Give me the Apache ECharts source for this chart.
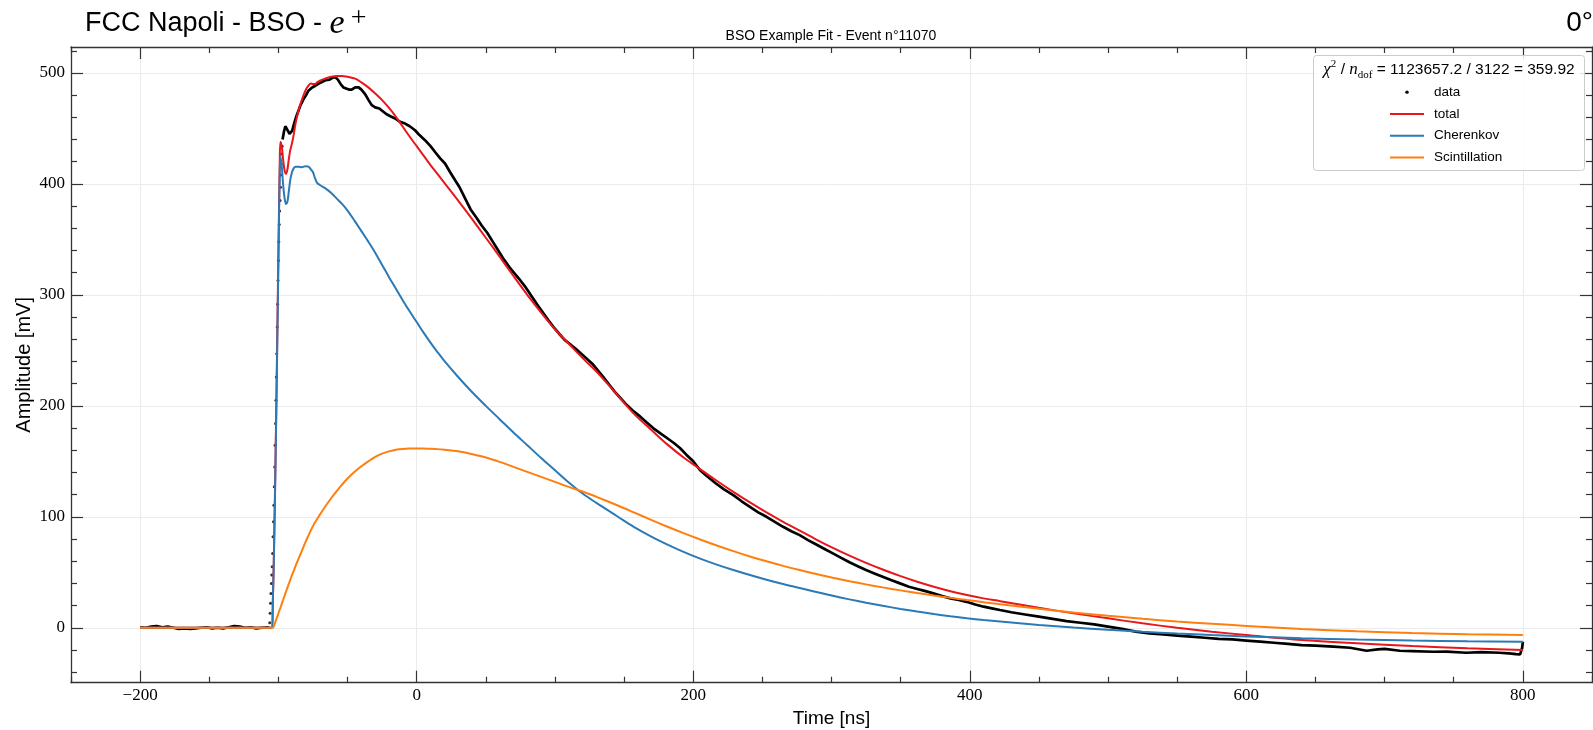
<!DOCTYPE html>
<html>
<head>
<meta charset="utf-8">
<title>BSO Example Fit</title>
<script src="https://cdn.jsdelivr.net/npm/echarts@6/dist/echarts.min.js"></script>
<style>
  html, body { margin: 0; padding: 0; background: #fff; }
  #chart { width: 1593px; height: 730px; }
</style>
</head>
<body>
<div id="chart"></div>
<script>
// measured samples before the pulse (flat baseline)
const baseT = [-200, -196, -192, -188, -184, -180, -176, -172, -168, -164, -160, -156, -152, -148, -144, -140, -136, -132, -128, -124, -120, -116, -112, -108, -106.6];
const baseV = [0.5, 0, 1, 1.5, 0.5, 1, 0, -1, -0.5, -1, -0.5, 0, 0.5, -0.5, 0, -0.5, 0.5, 1.5, 1, 0, 0.5, -0.5, 0, 0.5, 0];

// steep rising edge, samples visible as separate dots
const riseT = [-106.3, -106.0, -105.7, -105.4, -105.1, -104.8, -104.5, -104.2, -103.9, -103.6, -103.3, -103.0, -102.7, -102.4, -102.1, -101.8, -101.5, -101.2, -100.9, -100.6, -100.3, -100.0, -99.7, -99.4, -99.1, -98.8, -98.5, -98.2, -97.9, -97.6, -97.3];
const riseV = [4.5, 13, 22, 31, 40, 47.5, 55, 67, 82, 95.5, 110.5, 127, 145, 164.5, 184, 205, 226, 247, 271, 291.5, 313, 331, 348, 363.5, 375.5, 385, 397, 408, 418, 427, 434];

// rest of the waveform
const dataT = [-97, -96, -95, -94.7, -94, -93, -92, -91, -90, -88.5, -87, -85.5, -84, -82, -80, -78.3, -76, -74, -72, -70, -68.6, -66, -63, -61, -59, -57, -55, -53, -51.8, -49, -47, -44.5, -42, -40, -37.3, -35, -32.5, -30, -27, -25, -22, -19, -15.6, -12, -8.4, -5, -1.2, 2, 6, 10, 13.3, 17, 20.5, 24, 27.8, 31, 35, 39, 43, 47, 51, 55, 59, 63, 67, 71, 75, 79, 83, 87, 91, 95, 99, 103, 107, 111, 115, 119, 123, 127, 131, 135, 139, 143, 147, 151, 156, 161.5, 166, 171, 176, 181, 186, 190.4, 195, 200, 205, 210, 216, 222, 229, 235, 241, 247, 253, 259, 265, 271, 277, 283, 289, 295, 301, 307, 313, 319, 325, 331, 337, 343, 349.5, 356, 362, 368, 373.6, 380, 386, 392, 397.7, 404, 410, 416, 421.8, 430, 440, 450, 460, 470, 480, 490, 500, 510, 520, 530, 540, 550, 560, 570, 580, 590, 600, 610, 620, 630, 640, 650, 663, 675, 687, 695, 700, 711, 720, 735, 745, 759, 770, 783, 790, 795, 798, 799.5, 800];
const dataV = [440, 447, 452, 452.8, 451, 447.5, 445, 445, 448, 455, 461, 466, 471, 476, 480, 484, 486.5, 488, 489.5, 491, 492.8, 493.5, 494, 495.5, 496.4, 494, 490, 487, 486, 485, 485, 487, 487, 485, 481, 476, 471, 469, 468, 466, 463, 461, 459, 456, 454.4, 452, 448.4, 444, 439.4, 434, 428.8, 423, 418.4, 411, 403.3, 397, 387, 377, 370, 362.5, 356, 348, 340, 332, 325, 319, 313, 306.5, 299, 291.5, 284.5, 277.5, 271, 265, 259.5, 255.5, 251.5, 247, 242.5, 238, 232, 226, 219.5, 213, 207.5, 202, 196, 190.5, 185.5, 180, 175.5, 171, 166.5, 162, 156, 150, 142, 136.5, 130.5, 125, 119.5, 114, 109, 104, 100, 95.5, 91, 87, 83.5, 79, 75, 71, 67, 63, 59, 55.5, 52, 49, 46, 43, 40, 37, 35, 33, 31, 28.5, 26.5, 25, 23.4, 21, 19, 17.5, 16, 14, 12, 10, 8, 6, 4.5, 3, 1, -1, -3.5, -5, -6, -7, -8, -9, -10, -10.5, -11.5, -12.5, -13.5, -14.5, -15.6, -16, -17, -18, -20.7, -19.5, -19, -20.7, -21, -21.6, -21.5, -22.5, -22, -22.5, -23, -23.7, -24, -18, -12.6];

// fit curves, common time grid
const fitT = [-200, -105, -104, -103, -102, -101, -100, -99, -98.5, -97.5, -96.5, -95.5, -94.5, -93.5, -92.5, -91.5, -90.3, -89, -87.5, -85.5, -83, -80.5, -78.3, -76.5, -75, -73.5, -72, -70, -66, -62, -58, -54, -50, -44.5, -40, -35, -30, -25, -20, -15, -10, -5, 0, 5, 10, 15, 20, 30, 40, 50, 60, 70, 80, 90, 100, 110, 120, 130, 145, 157, 170, 181, 193, 205, 217, 229, 241, 253, 265, 277, 289, 301, 313, 325, 337, 350, 362, 374, 386, 398, 410, 422, 450, 475, 500, 525, 550, 575, 600, 640, 680, 720, 760, 800];
const totalV = [0, 0, 25, 85, 160, 247, 338, 423, 438, 433, 421, 412, 409, 413, 422, 430, 436, 444, 455, 466, 476, 484, 488.5, 490.5, 490, 490, 491.5, 493, 495, 496.5, 497.3, 497.3, 496.5, 494.9, 491.5, 487, 481.5, 475.5, 468.5, 460.5, 451.5, 442.5, 434, 425.5, 417, 409, 401, 385, 368.5, 351.5, 334.5, 317, 300, 284, 269, 256, 243, 231, 210, 193, 178, 165.5, 153.5, 143, 132.5, 122.5, 113, 104, 95.5, 87.5, 79.5, 72, 65, 58.5, 52.5, 46.5, 41.5, 37, 33, 29.5, 26.5, 24, 18, 13, 8.5, 4, 0, -3.5, -6.5, -11, -14, -16.5, -18.5, -20];
const cherV = [0, 0, 25, 80, 155, 240, 330, 412, 425, 415, 398, 387, 382, 384, 393, 403, 410, 414, 415.5, 415.5, 415, 416, 415.5, 413, 410.5, 405, 401, 399, 396, 392, 387, 382, 376, 366, 357.5, 348, 338, 327, 316, 305.5, 295, 285, 275.5, 266, 257, 248.5, 240.5, 226, 212.5, 200, 188, 176, 164.5, 153, 142, 131, 121, 112.5, 100.5, 91, 82, 75.2, 68.4, 62.3, 56.9, 52, 47.5, 43.3, 39.4, 35.8, 32.3, 28.8, 25.6, 22.6, 19.8, 17, 14.6, 12.4, 10.4, 8.6, 7, 5.6, 2.5, 0.2, -1.8, -3.6, -5.2, -6.6, -7.8, -9.4, -10.6, -11.5, -12.2, -12.6];
const scinV = [0, 0, 0, 2.5, 6, 9.5, 13, 16.5, 18, 22, 25.5, 29, 32.5, 36, 39.5, 43, 47, 51, 56, 62, 69.5, 77, 83, 88, 91.5, 95, 98, 102, 109.5, 116.5, 123, 129, 134.5, 141, 145.5, 150, 154, 157, 159, 160.5, 161.2, 161.5, 161.6, 161.5, 161.3, 161, 160.5, 159, 156.5, 153.5, 149.5, 145, 140.5, 136, 131.5, 127, 122.8, 118, 110.4, 104, 97, 91.3, 85.3, 79.6, 74.2, 69.1, 64.3, 59.9, 55.8, 52, 48.4, 45.1, 42, 39.1, 36.4, 33.7, 31.3, 29.1, 27, 25, 23.1, 21.3, 17.1, 13.8, 10.8, 8.1, 5.7, 3.6, 1.7, -1.1, -3.2, -4.7, -5.8, -6.6];

// tick positions
const xMajor = [-200, 0, 200, 400, 600, 800];
const xMinor = [-250, -150, -100, -50, 50, 100, 150, 250, 300, 350, 450, 500, 550, 650, 700, 750, 850];
const yMajor = [0, 100, 200, 300, 400, 500];
const yMinor = [-40, -20, 20, 40, 60, 80, 120, 140, 160, 180, 220, 240, 260, 280, 320, 340, 360, 380, 420, 440, 460, 480, 520];

const X_MIN = -250, X_MAX = 850, Y_MIN = -49.5, Y_MAX = 523.4;
const spine = '#333';

function pairs(ts, vs) {
    return ts.map(function (t, i) { return [t, vs[i]]; });
}
function minusFmt(v) {
    return v < 0 ? '\u2212' + (-v) : String(v);
}

function xAx(pos, ticks, len, line) {
    return {
        type: 'value', min: X_MIN, max: X_MAX, position: pos,
        axisLine: { show: line, onZero: false, lineStyle: { color: spine, width: 1.3 } },
        axisTick: { show: true, inside: true, length: len, customValues: ticks, lineStyle: { color: spine, width: 1.2 } },
        axisLabel: { show: false },
        splitLine: { show: false }
    };
}
function yAx(pos, ticks, len, line) {
    return {
        type: 'value', min: Y_MIN, max: Y_MAX, position: pos,
        axisLine: { show: line, onZero: false, lineStyle: { color: spine, width: 1.3 } },
        axisTick: { show: true, inside: true, length: len, customValues: ticks, lineStyle: { color: spine, width: 1.2 } },
        axisLabel: { show: false },
        splitLine: { show: false }
    };
}

// main axes carry labels and grid lines
const xMain = xAx('bottom', xMajor, 12, true);
xMain.axisLabel = {
    show: true, customValues: xMajor, margin: 4, formatter: minusFmt,
    fontFamily: 'Liberation Serif', fontSize: 17, color: '#000'
};
xMain.splitLine = { show: true, lineStyle: { color: '#ebebeb', width: 1 } };
xMain.name = 'Time [ns]';
xMain.nameLocation = 'middle';
xMain.nameGap = 27;
xMain.nameMoveOverlap = false;
xMain.nameTextStyle = { fontFamily: 'Liberation Sans', fontSize: 19, color: '#000' };

const yMain = yAx('left', yMajor, 12, true);
yMain.axisLabel = {
    show: true, customValues: yMajor, margin: 6, formatter: minusFmt,
    fontFamily: 'Liberation Serif', fontSize: 17, color: '#000'
};
yMain.splitLine = { show: true, lineStyle: { color: '#ebebeb', width: 1 } };
yMain.name = 'Amplitude [mV]';
yMain.nameLocation = 'middle';
yMain.nameGap = 37;
yMain.nameMoveOverlap = false;
yMain.nameTextStyle = { fontFamily: 'Liberation Sans', fontSize: 20, color: '#000' };

const linePath = 'path://M0,0H34V2H0Z';

function fitSeries(name, values, color) {
    return {
        name: name, type: 'line', xAxisIndex: 0, yAxisIndex: 0,
        data: pairs(fitT, values), showSymbol: false, symbol: 'none',
        smooth: 0.35,
        itemStyle: { color: color },
        lineStyle: { color: color, width: 2 }
    };
}

const chart = echarts.init(document.getElementById('chart'));
chart.setOption({
    animation: false,
    backgroundColor: '#fff',
    grid: { left: 71, right: 1, top: 47, bottom: 47.3, containLabel: false, outerBoundsMode: 'none' },
    xAxis: [
        xMain,
        xAx('bottom', xMinor, 6, false),
        xAx('top', xMajor, 12, true),
        xAx('top', xMinor, 6, false)
    ],
    yAxis: [
        yMain,
        yAx('left', yMinor, 6, false),
        yAx('right', yMajor, 12, true),
        yAx('right', yMinor, 6, false)
    ],
    graphic: [
        {
            type: 'text', x: 85, y: 24, z: 10,
            style: {
                text: '{a|FCC Napoli - BSO - }{e|e}{s|+}',
                align: 'left', textAlign: 'left', verticalAlign: 'middle', textVerticalAlign: 'middle',
                rich: {
                    a: { fontFamily: 'Liberation Sans', fontSize: 27, lineHeight: 38, fill: '#000' },
                    e: { fontFamily: 'Liberation Serif', fontStyle: 'italic', fontSize: 34, lineHeight: 38, fill: '#000' },
                    s: { fontFamily: 'Liberation Serif', fontSize: 28, lineHeight: 19, verticalAlign: 'top', fill: '#000', padding: [0, 0, 0, 6] }
                }
            }
        },
        {
            type: 'text', x: 831, y: 36, z: 10,
            style: {
                text: 'BSO Example Fit - Event n\u00b011070',
                align: 'center', textAlign: 'center', verticalAlign: 'middle', textVerticalAlign: 'middle',
                fontFamily: 'Liberation Sans', fontSize: 14, fill: '#000'
            }
        },
        {
            type: 'text', x: 1593, y: 23, z: 10,
            style: {
                text: '0\u00b0',
                align: 'right', textAlign: 'right', verticalAlign: 'middle', textVerticalAlign: 'middle',
                fontFamily: 'Liberation Sans', fontSize: 28, fill: '#000'
            }
        },
        {
            type: 'rect', z: 9,
            shape: { x: 1313.5, y: 55.5, width: 271, height: 115, r: 3 },
            style: { fill: 'rgba(255,255,255,0.85)', stroke: '#cccccc', lineWidth: 1 }
        },
        {
            type: 'text', x: 1449, y: 70, z: 10,
            style: {
                text: '{m|\u03c7}{p|2}{t| / }{m|n}{b|dof}{t| = 1123657.2 / 3122 = 359.92}',
                align: 'center', textAlign: 'center', verticalAlign: 'middle', textVerticalAlign: 'middle',
                rich: {
                    m: { fontFamily: 'Liberation Serif', fontStyle: 'italic', fontSize: 17, lineHeight: 22, fill: '#000' },
                    p: { fontFamily: 'Liberation Serif', fontSize: 11, lineHeight: 13, verticalAlign: 'top', fill: '#000' },
                    b: { fontFamily: 'Liberation Serif', fontSize: 11, lineHeight: 12, verticalAlign: 'bottom', fill: '#000' },
                    t: { fontFamily: 'Liberation Sans', fontSize: 15.5, lineHeight: 22, fill: '#000' }
                }
            }
        }
    ],
    legend: {
        orient: 'vertical', left: 1385, top: 79, z: 11,
        itemWidth: 34, itemHeight: 3.4, itemGap: 5.5,
        selectedMode: false,
        itemStyle: { borderWidth: 0 },
        textStyle: { fontFamily: 'Liberation Sans', fontSize: 13.5, lineHeight: 16.3, color: '#000', padding: [0, 0, 0, 5] },
        data: [
            { name: 'data', icon: 'circle' },
            { name: 'total', icon: linePath },
            { name: 'Cherenkov', icon: linePath },
            { name: 'Scintillation', icon: linePath }
        ]
    },
    series: [
        {
            name: 'data', type: 'line', xAxisIndex: 0, yAxisIndex: 0,
            data: pairs(baseT, baseV).concat([[riseT[0], '-']], pairs(dataT, dataV)),
            showSymbol: false, symbol: 'none', connectNulls: false,
            itemStyle: { color: '#000' },
            lineStyle: { color: '#000', width: 2.7 }
        },
        {
            name: 'data', type: 'scatter', xAxisIndex: 0, yAxisIndex: 0,
            data: pairs(riseT, riseV),
            symbolSize: 3, itemStyle: { color: '#000' }
        },
        fitSeries('total', totalV, '#e8171c'),
        fitSeries('Cherenkov', cherV, '#2a7ab7'),
        fitSeries('Scintillation', scinV, '#ff7f0e')
    ]
});
</script>
</body>
</html>
